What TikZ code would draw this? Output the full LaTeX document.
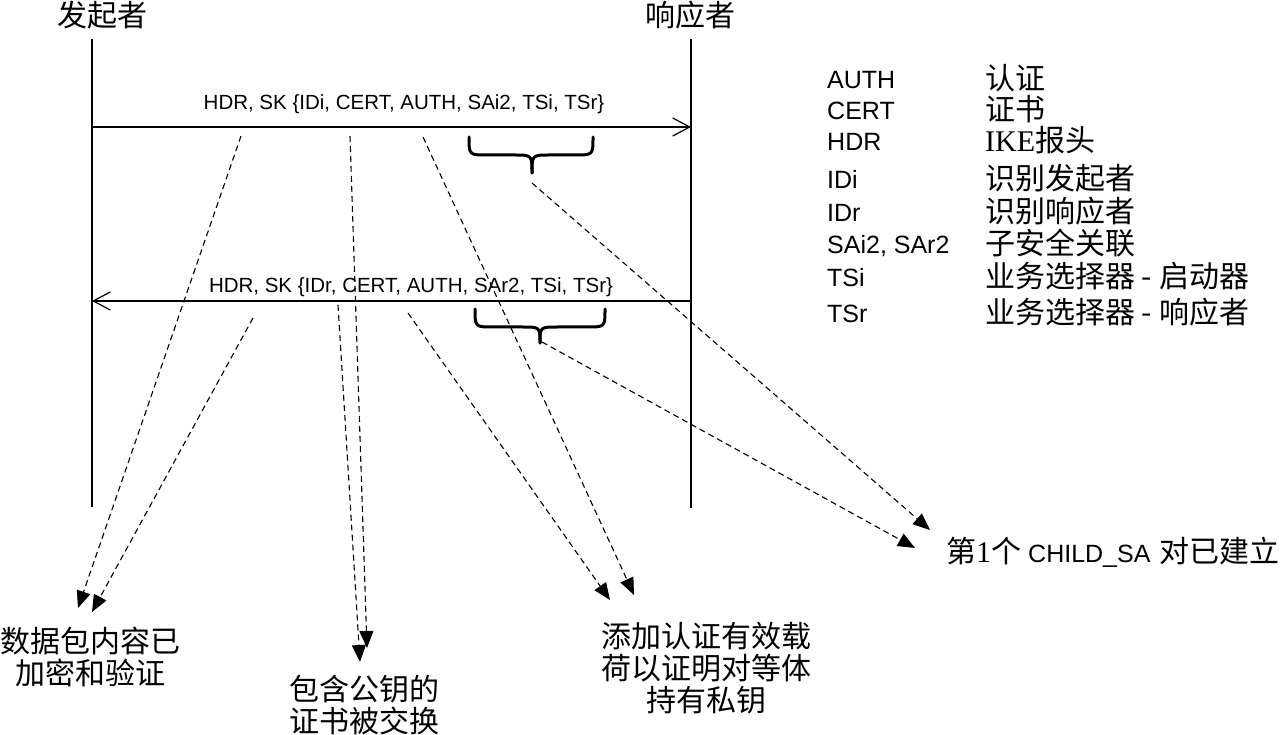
\documentclass[tikz,border=0pt]{standalone}
\usepackage{fontspec}
\setmainfont{Liberation Sans}
\newfontfamily\cjk{Noto Sans CJK SC}
\newfontfamily\lser{Liberation Serif}
\usetikzlibrary{arrows.meta}
\begin{document}
\begin{tikzpicture}[x=1pt,y=-1pt,
  life/.style={line width=1.3pt},
  msg/.style={line width=1.5pt,-{Straight Barb[length=17pt,width=18pt,line width=1.2pt]}},
  dsh/.style={line width=1.1pt,dash pattern=on 6pt off 4pt,-{Triangle[length=17pt,width=14pt]}},
  brc/.style={line width=3pt,line cap=round,line join=round},
  head/.style={font={\cjk\fontsize{30}{30}\selectfont},inner sep=0pt},
  lat/.style={font={\fontsize{25}{25}\selectfont},inner sep=0pt,anchor=base west},
  zh/.style={font={\cjk\fontsize{30}{30}\selectfont},inner sep=0pt,anchor=base west},
  note/.style={font={\cjk\fontsize{30}{32}\selectfont},align=center,inner sep=0pt},
  lbl/.style={font={\fontsize{20.5}{20.5}\selectfont},inner sep=0pt,anchor=base}
]
\useasboundingbox[fill=white] (0,0) rectangle (1286,735);

% headers and lifelines
\node[head] (ini) at (102,15) {发起者};
\node[head] (res) at (690,15) {响应者};
\coordinate (iniTop) at (92,39);
\coordinate (iniBot) at (92,507);
\coordinate (resTop) at (691,39);
\coordinate (resBot) at (691,508);
\draw[life] (iniTop) -- (iniBot);
\draw[life] (resTop) -- (resBot);

% messages
\coordinate (m1s) at (92,127);
\coordinate (m1e) at (691,127);
\coordinate (m2s) at (691,301);
\coordinate (m2e) at (92,301);
\draw[msg] (m1s) -- (m1e);
\draw[msg] (m2s) -- (m2e);
\node[lbl] (t1) at (404,110) {HDR, SK \{IDi, CERT, AUTH, SAi2, TSi, TSr\}};
\node[lbl] (t2) at (411,293) {HDR, SK \{IDr, CERT, AUTH, SAr2, TSi, TSr\}};

% braces
\draw[brc] (469,137) .. controls (469,155) and (469,155) .. (487,155) -- (514,155)
  .. controls (532,155) and (532,155) .. (532,173);
\draw[brc] (593,137) .. controls (593,155) and (593,155) .. (575,155) -- (550,155)
  .. controls (532,155) and (532,155) .. (532,173);
\draw[brc] (475,309) .. controls (475,327) and (475,327) .. (493,327) -- (522,327)
  .. controls (540,327) and (540,327) .. (540,343);
\draw[brc] (605,309) .. controls (605,327) and (605,327) .. (587,327) -- (558,327)
  .. controls (540,327) and (540,327) .. (540,343);

% dashed connectors
\coordinate (s1) at (241,136);  \coordinate (e1) at (78,608);
\coordinate (s2) at (253,318);  \coordinate (e2) at (92,612);
\coordinate (s3) at (350,136);  \coordinate (e3) at (367,648);
\coordinate (s4) at (338,305);  \coordinate (e4) at (360,662);
\coordinate (s5) at (423,137);  \coordinate (e5) at (634,595);
\coordinate (s6) at (408,313);  \coordinate (e6) at (610,600);
\coordinate (s7) at (532,183);  \coordinate (e7) at (930,530);
\coordinate (s8) at (542,342);  \coordinate (e8) at (915,548);
\foreach \i in {1,...,8} { \draw[dsh] (s\i) -- (e\i); }

% bottom notes
\node[note] (n1) at (91,657) {数据包内容已\\加密和验证};
\node[note] (n2) at (364,705) {包含公钥的\\证书被交换};
\node[note] (n3) at (706,668) {添加认证有效载\\荷以证明对等体\\持有私钥};
\node[anchor=west,inner sep=0pt] (n4) at (946,552)
  {{\cjk\fontsize{30}{30}\selectfont 第{\lser 1}个}\hspace{7pt}{\fontsize{25}{25}\selectfont CHILD\_SA}\hspace{9pt}{\cjk\fontsize{30}{30}\selectfont 对已建立}};

% legend
\node[lat] (k1) at (827,88.5) {AUTH};
\node[lat] (k2) at (827,119.5) {CERT};
\node[lat] (k3) at (827,150.5) {HDR};
\node[lat] (k4) at (827,188.5) {IDi};
\node[lat] (k5) at (827,221.5) {IDr};
\node[lat] (k6) at (827,253.5) {SAi2, SAr2};
\node[lat] (k7) at (827,286.5) {TSi};
\node[lat] (k8) at (827,322.5) {TSr};
\node[zh] (v1) at (985,90) {认证};
\node[zh] (v2) at (985,121) {证书};
\node[zh] (v3) at (985,152) {{\lser IKE}报头};
\node[zh] (v4) at (985,190) {识别发起者};
\node[zh] (v5) at (985,223) {识别响应者};
\node[zh] (v6) at (985,255) {子安全关联};
\node[zh] (v7) at (985,288) {业务选择器 - 启动器};
\node[zh] (v8) at (985,324) {业务选择器 - 响应者};
\end{tikzpicture}
\end{document}
